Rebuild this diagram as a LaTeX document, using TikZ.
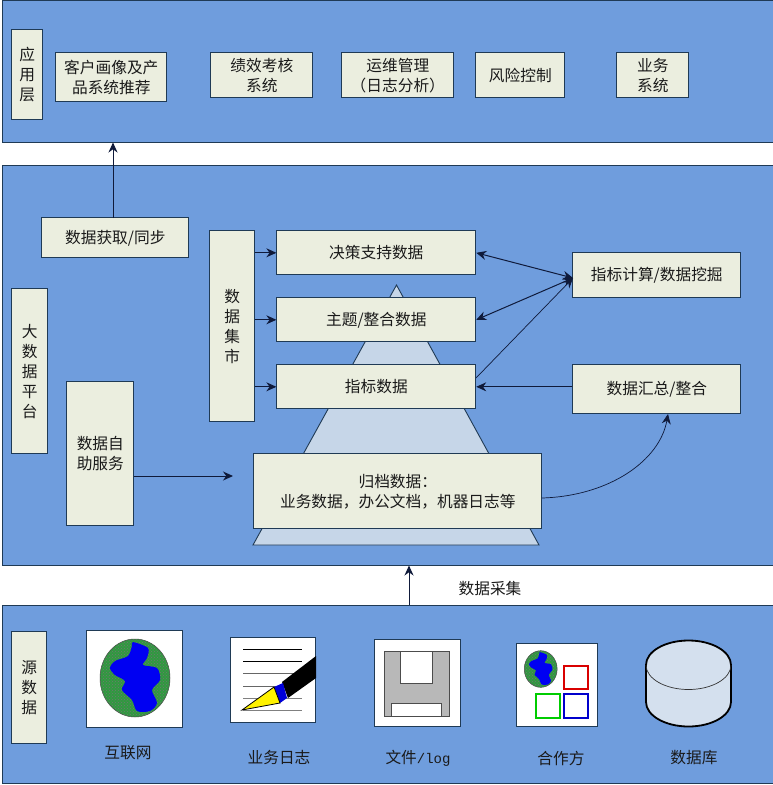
\documentclass[tikz,border=0pt]{standalone}
\usepackage{fontspec}
\setmainfont{Noto Sans CJK SC}
\newfontfamily\latinmono{Liberation Mono}
\usetikzlibrary{arrows.meta,patterns,calc}
\definecolor{panelblue}{HTML}{6F9DDD}
\definecolor{paneledge}{HTML}{1F3A55}
\definecolor{boxfill}{HTML}{EBEEDF}
\definecolor{pyr}{HTML}{C6D6E8}
\definecolor{inkc}{HTML}{1A1A1A}
\definecolor{arrowc}{HTML}{0F1A3A}
\definecolor{globeg}{HTML}{2F9A3F}
\tikzset{
  panel/.style={draw=paneledge,line width=1pt,fill=panelblue},
  bx/.style={draw=paneledge,line width=0.9pt,fill=boxfill,text=inkc,align=center,inner sep=0pt,
    font=\fontsize{15.7}{20}\selectfont},
  lbl/.style={text=inkc,inner sep=0pt,font=\fontsize{15.7}{20}\selectfont},
  iconbox/.style={draw=paneledge,line width=1pt,fill=white},
  conn/.style={draw=arrowc,line width=1pt,-{Stealth[length=10pt,width=9pt]}},
  conn2/.style={draw=arrowc,line width=1pt,{Stealth[length=10pt,width=9pt]}-{Stealth[length=10pt,width=9pt]}},
}
\newcommand{\bxat}[6]{% name, x1,y1,x2,y2,text
  \node[bx,minimum width={(#4-#2)*1pt},minimum height={(#5-#3)*1pt}] (#1) at ({(#2+#4)/2-0.2},{(#3+#5)/2-0.2}) {#6};}
\newcommand{\globeicon}[3]{%
  \begin{scope}[shift={(#1,#2)},scale=#3]
    \fill[globeg] (0,0) ellipse [x radius=35,y radius=39];
    \fill[pattern=crosshatch dots,pattern color=black!55] (0,0) ellipse [x radius=35,y radius=39];
    \draw[black!70,line width=0.5pt] (0,0) ellipse [x radius=35,y radius=39];
    \fill[blue!95!black] plot[smooth cycle,tension=0.5] coordinates {(-2,-36) (13,-30) (12,-20) (8,-13) (22,-10) (25,2) (17,12) (22,25) (15,33) (2,33) (-3,22) (-13,12) (-10,3) (-20,-3) (-25,-10) (-20,-17) (-7,-22) (-3,-32)};
  \end{scope}}
\begin{document}
\begin{tikzpicture}[x=1pt,y=-1pt]
\useasboundingbox (0,0) rectangle (773,785);
\fill[white] (0,0) rectangle (773,785);
% panels
\node[panel,minimum width=771pt,minimum height=142pt,inner sep=0pt] (top) at (387.5,71) {};
\node[panel,minimum width=771pt,minimum height=400pt,inner sep=0pt] (mid) at (387.5,365) {};
\node[panel,minimum width=771pt,minimum height=178pt,inner sep=0pt] (bot) at (387.5,694) {};
% top
\bxat{app}{12}{30}{43}{120}{应\\用\\层}
\bxat{cust}{56}{53}{167}{102}{客户画像及产\\品系统推荐}
\bxat{perf}{211}{53}{313}{98}{绩效考核\\系统}
\bxat{ops}{342}{53}{454}{98}{运维管理\\（日志分析）}
\bxat{risk}{476}{53}{565}{98}{风险控制}
\bxat{biz}{617}{53}{689}{98}{业务\\系统}
% middle
\draw[draw=paneledge,line width=0.9pt,fill=pyr] (396.5,285) -- (539,545) -- (253,545) -- cycle;
\bxat{sync}{42}{218}{189}{258}{数据获取/同步}
\bxat{plat}{12}{289}{48}{454}{大\\数\\据\\平\\台}
\bxat{self}{67}{382}{134}{526}{数据自\\助服务}
\bxat{mart}{210}{231}{255}{422}{数\\据\\集\\市}
\bxat{dec}{277}{231}{476}{275}{决策支持数据}
\bxat{theme}{277}{298}{476}{342}{主题/整合数据}
\bxat{kpi}{277}{365}{476}{409}{指标数据}
\bxat{arch}{254}{454}{542}{529}{归档数据：\\业务数据，办公文档，机器日志等}
\bxat{calc}{573}{253}{741}{298}{指标计算/数据挖掘}
\bxat{agg}{573}{365}{741}{414}{数据汇总/整合}
\coordinate (selfend) at (233,476);
\coordinate (calcin) at (573,278);
\coordinate (syncup) at (113,218);
\coordinate (kpiup) at (476,378);
\coordinate (archout) at (542,498);
\coordinate (aggin) at (668,414);
\coordinate (collectfrom) at (409,605);
\draw[conn] (syncup) -- (syncup |- top.south);
\draw[conn] (mart.east |- dec.west) -- (dec.west);
\draw[conn] (mart.east |- theme.west) -- (theme.west);
\draw[conn] (mart.east |- kpi.west) -- (kpi.west);
\draw[conn] (self.east |- selfend) -- (selfend);
\draw[conn2] (dec.east) -- (calcin);
\draw[conn2] (theme.east) -- (calcin);
\draw[conn,line width=0.7pt] (kpiup) -- (calcin);
\draw[conn] (agg.west |- kpi.east) -- (kpi.east);
\draw[conn,line width=0.7pt] (archout) .. controls (610,496) and (660,460) .. (aggin);
\draw[conn] (collectfrom) -- (collectfrom |- mid.south);
\node[lbl] (collect) at (490,589) {数据采集};
% bottom
\bxat{src}{12}{632}{47}{744}{源\\数\\据}
\node[iconbox,minimum width=96pt,minimum height=97pt,inner sep=0pt] (web) at (134.8,678.5) {};
\globeicon{135}{678}{1}
\node[iconbox,minimum width=85pt,minimum height=85pt,inner sep=0pt] (log) at (273.3,679.5) {};
\foreach \yy/\cc in {649/black,661/black,673/black!60,686/black!60,698/black!50,710/black!50}
  \draw[\cc,line width=1pt] (243,\yy) -- (302,\yy);
\fill[black] (282,682) -- (316,656) -- (316,678) -- (288,698) -- cycle;
\fill[blue!85!black] (274,687) -- (283,683) -- (287,698) -- (280,703) -- cycle;
\draw[black,line width=0.8pt,fill=yellow] (242,710) -- (274,687) -- (280,703) -- cycle;
\node[iconbox,minimum width=86pt,minimum height=87pt,inner sep=0pt] (file) at (417,682.5) {};
\draw[black!70,line width=0.8pt,fill=black!28] (384,651) rectangle (449,716);
\draw[black!70,line width=0.8pt,fill=white] (400,651) rectangle (432,683);
\draw[black!70,line width=0.8pt,fill=white] (391,703) rectangle (441,716);
\node[iconbox,minimum width=81pt,minimum height=83pt,inner sep=0pt] (partner) at (556.5,684.5) {};
\globeicon{540.7}{669}{0.47}
\draw[red!85!black,line width=1.4pt] (564,666) rectangle (588,689);
\draw[green!80!black,line width=1.4pt] (536,694) rectangle (560,718);
\draw[blue!80!black,line width=1.4pt] (564,694) rectangle (588,718);
% cylinder
\draw[black,line width=1.8pt,fill=pyr!75!white] (646,665) -- (646,702) arc [start angle=180,end angle=360,x radius=42.5,y radius=-24.5] -- (731,665) arc [start angle=0,end angle=180,x radius=42.5,y radius=-24.5] -- cycle;
\draw[black!80,line width=0.7pt] (646,665) arc [start angle=180,end angle=360,x radius=42.5,y radius=-24.5];
\node[lbl] (l1) at (128,753) {互联网};
\node[lbl] (l2) at (279,758) {业务日志};
\node[lbl] (l3) at (418,758) {文件{\latinmono\fontsize{14}{20}\selectfont /log}};
\node[lbl] (l4) at (561,758) {合作方};
\node[lbl] (l5) at (694,758) {数据库};
\end{tikzpicture}
\end{document}
